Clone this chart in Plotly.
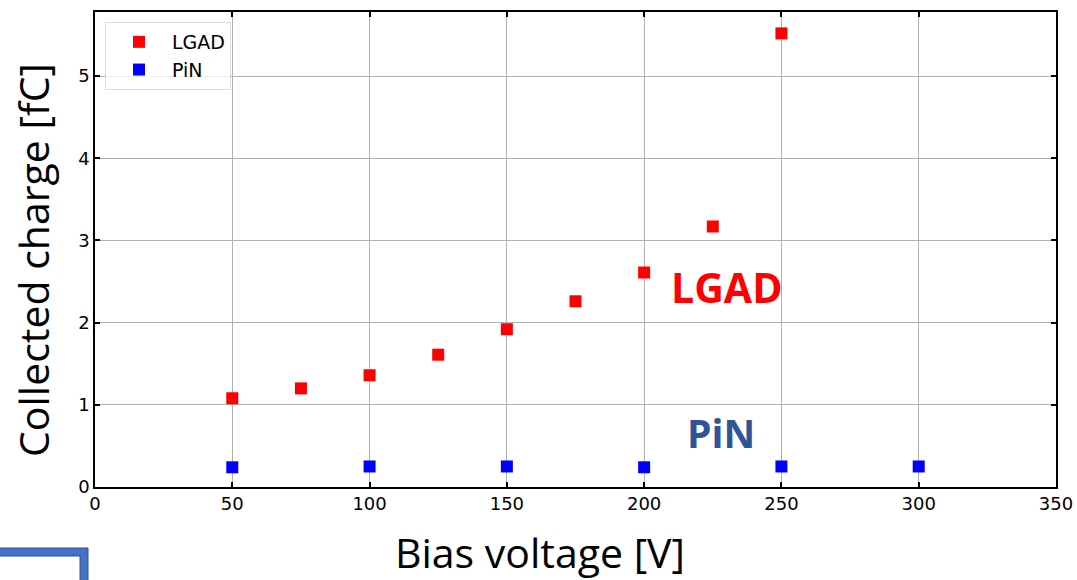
import plotly.graph_objects as go

lgad_v = [50, 75, 100, 125, 150, 175, 200, 225, 250]
lgad_q = [1.08, 1.20, 1.36, 1.61, 1.92, 2.26, 2.61, 3.17, 5.52]
pin_v = [50, 100, 150, 200, 250, 300]
pin_q = [0.24, 0.25, 0.25, 0.24, 0.25, 0.25]
x_ticks = [0, 50, 100, 150, 200, 250, 300, 350]
y_ticks = [0, 1, 2, 3, 4, 5]

W, H = 1077, 580
L, R, T, B = 95, 21, 12, 93
pw, ph = W - L - R, H - T - B

def px(x):
    return (x - L) / pw

def py(y):
    return (H - B - y) / ph

fig = go.Figure()
fig.add_trace(go.Scatter(x=lgad_v, y=lgad_q, mode="markers", name="LGAD",
                         marker=dict(symbol="square", size=12, color="#ff0000")))
fig.add_trace(go.Scatter(x=pin_v, y=pin_q, mode="markers", name="PiN",
                         marker=dict(symbol="square", size=12, color="#0000ff")))

axis_common = dict(showline=True, linecolor="black", linewidth=1.5, mirror="allticks",
                   ticks="inside", ticklen=5, tickcolor="black", tickwidth=1.5,
                   showgrid=True, gridcolor="#b0b0b0", gridwidth=1, zeroline=False,
                   automargin=False,
                   tickfont=dict(family="DejaVu Sans", size=18, color="black"))

fig.update_layout(
    width=W, height=H,
    autosize=False,
    margin=dict(l=L, r=R, t=T, b=B, autoexpand=False),
    paper_bgcolor="white", plot_bgcolor="white",
    showlegend=True,
    legend=dict(x=px(105), y=py(22), xanchor="left", yanchor="top",
                bgcolor="rgba(255,255,255,0.8)", bordercolor="#d9d9d9", borderwidth=1,
                font=dict(family="DejaVu Sans", size=19, color="black"),
                itemwidth=56, tracegroupgap=0),
    xaxis=dict(range=[0, 350], tickvals=x_ticks, **axis_common),
    yaxis=dict(range=[0, 5.78], tickvals=y_ticks, **axis_common),
    annotations=[
        dict(x=px(540), y=py(552), xref="paper", yref="paper", text="Bias voltage [V]",
             showarrow=False, xanchor="center", yanchor="middle",
             font=dict(family="Open Sans", size=41, color="black")),
        dict(x=px(33), y=py(260), xref="paper", yref="paper", text="Collected charge [fC]",
             showarrow=False, xanchor="center", yanchor="middle", textangle=-90,
             font=dict(family="Open Sans", size=41, color="black")),
        dict(x=209, y=2.43, xref="x", yref="y", text="<b>LGAD</b>", showarrow=False,
             xanchor="left", font=dict(family="Open Sans", size=41, color="#ff0000")),
        dict(x=215, y=0.66, xref="x", yref="y", text="<b>PiN</b>", showarrow=False,
             xanchor="left", font=dict(family="Open Sans", size=39, color="#2f5597")),
    ],
    shapes=[
        dict(type="rect", xref="paper", yref="paper", x0=px(-10), x1=px(84), y0=py(600), y1=py(552),
             line=dict(color="#4472c4", width=8), fillcolor="rgba(0,0,0,0)"),
        dict(type="rect", xref="paper", yref="paper", x0=px(-10), x1=px(88), y0=py(600), y1=py(548),
             line=dict(color="#2f528f", width=1), fillcolor="rgba(0,0,0,0)"),
        dict(type="rect", xref="paper", yref="paper", x0=px(-10), x1=px(80), y0=py(600), y1=py(556),
             line=dict(color="#2f528f", width=1), fillcolor="rgba(0,0,0,0)"),
    ],
)

fig.write_html("out.html")
